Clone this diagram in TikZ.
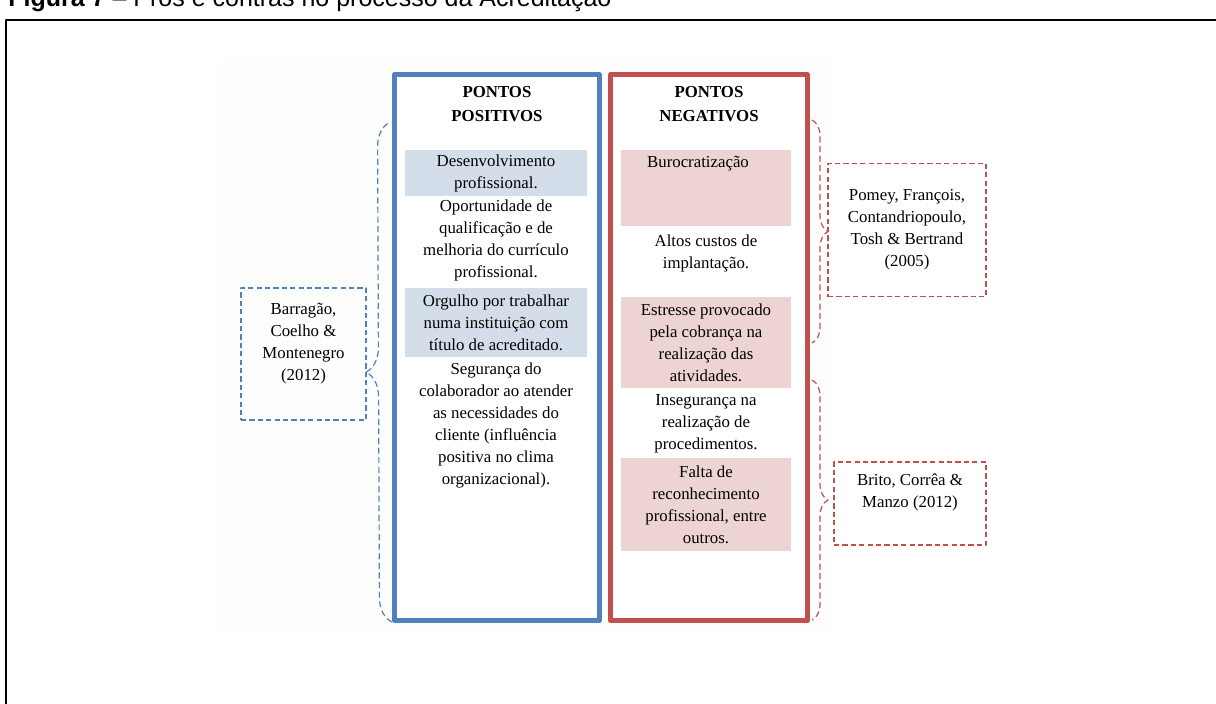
\documentclass[tikz,border=0pt]{standalone}
\usepackage{fontspec}
\setmainfont{Liberation Serif}
\newfontfamily\arialfont{Liberation Sans}
\usetikzlibrary{decorations.pathreplacing}
\definecolor{posblue}{HTML}{4F81BD}
\definecolor{negred}{HTML}{C0504D}
\definecolor{posbg}{HTML}{D4DEEB}
\definecolor{negbg}{HTML}{EED3D3}
\begin{document}
\begin{tikzpicture}[x=0.5pt, y=-0.5pt, line join=round,
    txt/.style={font=\fontsize{8.4}{11}\selectfont, align=center, inner sep=0pt},
    head/.style={txt, font=\fontsize{8.4}{12}\selectfont\bfseries},
    frame/.style={draw=#1, line width=2.4pt, inner sep=0pt},
    posfill/.style={txt, fill=posbg, minimum width=91pt},
    negfill/.style={txt, fill=negbg, minimum width=85pt},
    cite/.style={draw=#1, line width=0.75pt, dash pattern=on 2.6pt off 1.6pt, inner sep=0pt},
    bracket/.style 2 args={draw=#1, line width=0.6pt, dash pattern=on 3pt off 1.8pt,
      decorate, decoration={brace, amplitude=#2}}]
  \useasboundingbox (0,0) rectangle (1216,703);
  \clip (0,0) rectangle (1216,703);
  % page frame and caption
  \node[anchor=base west, inner sep=0pt, font=\arialfont\fontsize{12.5}{14}\selectfont] (caption) at (8,6)
    {\textbf{Figura 7} – Prós e contras no processo da Acreditação};
  \draw[line width=1.2pt] (6,720) -- (6,20) -- (1230,20);
  \fill[black!0.8] (222,60) rectangle (832,633);
  % columns
  \node[frame=posblue, fill=white, minimum width=102.5pt, minimum height=273pt] (posframe) at (497,347.5) {};
  \node[frame=negred, fill=white, minimum width=98.5pt, minimum height=273pt] (negframe) at (709,347.5) {};
  \node[head] (poshead) at (497,104) {PONTOS\\POSITIVOS};
  \node[head] (neghead) at (709,104) {PONTOS\\NEGATIVOS};
  % positive points
  \node[posfill, minimum height=23pt] (pos1) at (496,173) {Desenvolvimento\\profissional.};
  \node[txt] (pos2) at (496,240) {Oportunidade de\\qualificação e de\\melhoria do currículo\\profissional.};
  \node[posfill, minimum height=34.5pt] (pos3) at (496,322.5) {Orgulho por trabalhar\\numa instituição com\\título de acreditado.};
  \node[txt] (pos4) at (496,425) {Segurança do\\colaborador ao atender\\as necessidades do\\cliente (influência\\positiva no clima\\organizacional).};
  % negative points
  \node[negfill, minimum height=38pt] (neg1) at (706,188) {};
  \node[txt] (neg1txt) at (698,164) {Burocratização};
  \node[txt] (neg2) at (706,253) {Altos custos de\\implantação.};
  \node[negfill, minimum height=45.5pt] (neg3) at (706,342.5) {Estresse provocado\\pela cobrança na\\realização das\\atividades.};
  \node[txt] (neg4) at (706,424) {Insegurança na\\realização de\\procedimentos.};
  \node[negfill, minimum height=46.5pt] (neg5) at (706,504.5) {Falta de\\reconhecimento\\profissional, entre\\outros.};
  % authors
  \node[cite=posblue, minimum width=62.5pt, minimum height=66pt] (barr) at (303.5,354) {};
  \node[txt] (barrtxt) at (303.5,344) {Barragão,\\Coelho \&\\Montenegro\\(2012)};
  \node[cite=negred, txt, minimum width=79pt, minimum height=66.5pt] (pomey) at (907,230)
    {Pomey, François,\\Contandriopoulo,\\Tosh \& Bertrand\\(2005)};
  \node[cite=negred, minimum width=76pt, minimum height=41.5pt] (brito) at (910,503.5) {};
  \node[txt] (britotxt) at (910,492) {Brito, Corrêa \&\\Manzo (2012)};
  % braces
  \coordinate (posbot) at (392,622);
  \coordinate (postop) at (390,122);
  \coordinate (negtop1) at (812,120);
  \coordinate (negbot1) at (812,343);
  \coordinate (negtop2) at (812,380);
  \coordinate (negbot2) at (812,620);
  \draw[bracket={posblue}{12.5pt}] (posbot) -- (postop);
  \draw[bracket={negred}{8pt}] (negtop1) -- (negbot1);
  \draw[bracket={negred}{8pt}] (negtop2) -- (negbot2);
\end{tikzpicture}
\end{document}
